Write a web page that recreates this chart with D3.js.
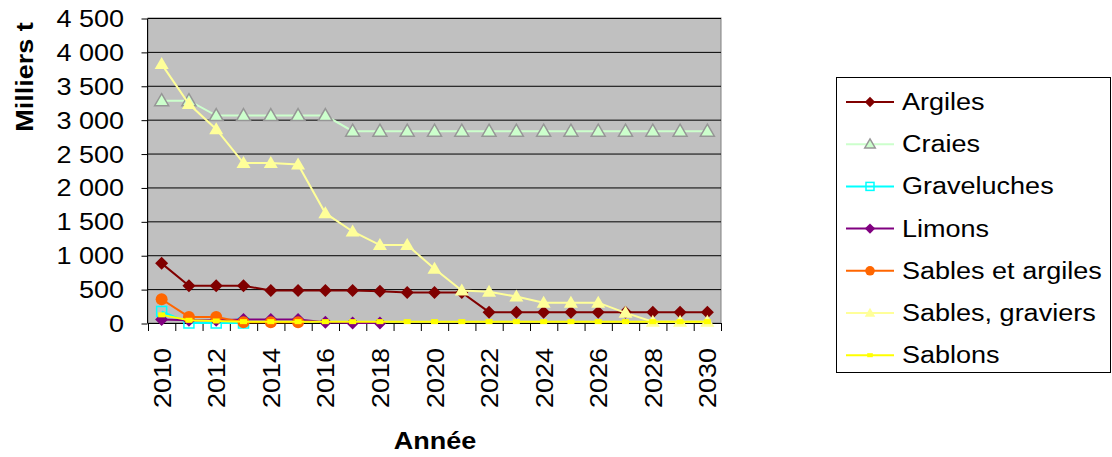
<!DOCTYPE html>
<html lang="fr">
<head>
   <meta charset="UTF-8">
   <title>Production par matériau</title>
   <style>
      body { margin: 0; background: white; }
      text { font-family: "Liberation Sans", Arial, sans-serif; }
   </style>
   <script src="https://cdn.jsdelivr.net/npm/d3@7"></script>
</head>
<body>
   <svg width="1112" height="457"></svg>
   <script>
      // data
      const years = d3.range(2010, 2031)
      const yTicks = [0, 500, 1000, 1500, 2000, 2500, 3000, 3500, 4000, 4500]

      const argiles = [880, 550, 550, 550, 480, 480, 480, 480, 470, 450, 450, 450, 160, 160, 160, 160, 160, 160, 160, 160, 160]
      const craies = [3280, 3280, 3060, 3060, 3060, 3060, 3060, 2830, 2830, 2830, 2830, 2830, 2830, 2830, 2830, 2830, 2830, 2830, 2830, 2830, 2830]
      const graveluches = [170, 0, 0, 0]
      const limons = [50, 40, 40, 50, 50, 50, 10, 0, 0]
      const sablesArgiles = [350, 90, 90, 10, 10, 10]
      const sablesGraviers = [3820, 3230, 2860, 2360, 2360, 2340, 1620, 1350, 1150, 1150, 800, 480, 460, 390, 300, 300, 300, 150, 20, 20, 20]
      const sablons = [120, 40, 30, 20, 20, 20, 20, 20, 20, 20, 20, 20, 20, 20, 20, 20, 20, 20, 20, 20, 20]

      const series = [
         { name: 'Argiles', values: argiles, line: '#800000', marker: 'diamond', fill: '#800000', stroke: 'none' },
         { name: 'Craies', values: craies, line: '#CCFFCC', marker: 'triangle', fill: '#CCFFCC', stroke: '#969696' },
         { name: 'Graveluches', values: graveluches, line: '#00FFFF', marker: 'square', fill: 'none', stroke: '#00FFFF' },
         { name: 'Limons', values: limons, line: '#800080', marker: 'diamond', fill: '#800080', stroke: 'none' },
         { name: 'Sables et argiles', values: sablesArgiles, line: '#FF6600', marker: 'circle', fill: '#FF6600', stroke: 'none' },
         { name: 'Sables, graviers', values: sablesGraviers, line: '#FFFF99', marker: 'triangle', fill: '#FFFF99', stroke: 'none' },
         { name: 'Sablons', values: sablons, line: '#FFFF00', marker: 'dash', fill: '#FFFF00', stroke: 'none' }
      ]

      const svg = d3.select('svg')
      const plot = { left: 148, right: 721, top: 18, bottom: 323 }
      const FS = 23.3      // font size
      const SX = 1.16      // glyphs in the original are a bit wider than Arial

      const x = d3.scaleBand().domain(years).range([plot.left, plot.right])
      const y = d3.scaleLinear().domain([0, 4500]).range([plot.bottom, plot.top])
      const cx = d => x(d) + x.bandwidth() / 2

      // text with stretched glyphs
      function label(g, str, tx, ty, rot, anchor, bold) {
         return g.append('text')
            .attr('transform', `translate(${tx}, ${ty})${rot ? ` rotate(${rot})` : ''} scale(${SX}, 1)`)
            .attr('text-anchor', anchor)
            .attr('font-size', FS)
            .attr('font-weight', bold ? 'bold' : null)
            .attr('fill', '#000')
            .text(str)
      }

      // plot background
      svg.append('rect')
         .attr('x', plot.left).attr('y', plot.top)
         .attr('width', plot.right - plot.left).attr('height', plot.bottom - plot.top)
         .attr('fill', '#C0C0C0')
         .attr('stroke', '#808080')

      // gridlines
      svg.append('g')
         .selectAll('line')
         .data(yTicks.slice(1))
         .enter()
         .append('line')
            .attr('x1', plot.left).attr('x2', plot.right)
            .attr('y1', d => y(d) + 0.5).attr('y2', d => y(d) + 0.5)
            .attr('stroke', '#000')

      // y axis
      const fmt = d => d3.format(',')(d).replace(',', ' ')
      const yAxis = svg.append('g')
         .attr('transform', `translate(${plot.left - 0.5}, 0.5)`)
         .call(d3.axisLeft(y).tickValues(yTicks).tickFormat('').tickSize(6))
      yAxis.selectAll('line, path').attr('stroke', '#000')
      yAxis.select('path').attr('d', `M0,${plot.top}V${plot.bottom}`)
      const yLabels = svg.append('g')
      yTicks.forEach(t => label(yLabels, fmt(t), 124, y(t) + 9, 0, 'end'))

      // x axis: ticks on band boundaries
      const xg = svg.append('g')
      xg.append('line')
         .attr('x1', plot.left).attr('x2', plot.right + 1)
         .attr('y1', plot.bottom + 0.5).attr('y2', plot.bottom + 0.5)
         .attr('stroke', '#000')
      xg.selectAll('line.tick')
         .data(years.concat([2031]))
         .enter()
         .append('line')
            .attr('class', 'tick')
            .attr('x1', d => (d === 2031 ? plot.right : x(d)) + 0.5)
            .attr('x2', d => (d === 2031 ? plot.right : x(d)) + 0.5)
            .attr('y1', plot.bottom).attr('y2', plot.bottom + 8)
            .attr('stroke', '#000')
      years.filter(d => d % 2 === 0)
         .forEach(d => label(xg, d, cx(d) + 9, plot.bottom + 25, -90, 'end'))

      // axis titles
      label(svg, 'Milliers t', 33, 77, -90, 'middle', true)
      label(svg, 'Année', 435, 449, 0, 'middle', true)

      // markers
      function drawMarker(g, s, px, py, scale) {
         const k = scale || 1
         if (s.marker === 'diamond') {
            g.append('path')
               .attr('d', `M${px},${py - 6.5 * k}L${px + 6.5 * k},${py}L${px},${py + 6.5 * k}L${px - 6.5 * k},${py}Z`)
               .attr('fill', s.fill)
         } else if (s.marker === 'triangle') {
            g.append('path')
               .attr('d', `M${px},${py - 7 * k}L${px + 7 * k},${py + 5 * k}L${px - 7 * k},${py + 5 * k}Z`)
               .attr('fill', s.fill)
               .attr('stroke', s.stroke)
               .attr('stroke-width', 1.5)
         } else if (s.marker === 'square') {
            g.append('rect')
               .attr('x', px - 5 * k).attr('y', py - 5 * k)
               .attr('width', 10 * k).attr('height', 10 * k)
               .attr('fill', 'none')
               .attr('stroke', s.stroke)
               .attr('stroke-width', 1.5)
         } else if (s.marker === 'circle') {
            g.append('circle')
               .attr('cx', px).attr('cy', py).attr('r', 6 * k)
               .attr('fill', s.fill)
         } else if (s.marker === 'dash') {
            g.append('rect')
               .attr('x', px - 3.5 * k).attr('y', py - 2.5 * k)
               .attr('width', 7 * k).attr('height', 5 * k)
               .attr('fill', s.fill)
         }
      }

      const line = d3.line()
         .x((d, i) => cx(years[i]))
         .y(d => y(d))

      series.forEach(s => {
         const g = svg.append('g')
         g.append('path')
            .attr('d', line(s.values))
            .attr('fill', 'none')
            .attr('stroke', s.line)
            .attr('stroke-width', 2)
         s.values.forEach((v, i) => drawMarker(g, s, cx(years[i]), y(v)))
      })

      // legend
      const legend = svg.append('g')
      legend.append('rect')
         .attr('x', 836.5).attr('y', 77.5)
         .attr('width', 274).attr('height', 295)
         .attr('fill', 'white')
         .attr('stroke', '#000')
      series.forEach((s, i) => {
         const ly = 102 + i * 42.2
         legend.append('line')
            .attr('x1', 846).attr('x2', 894)
            .attr('y1', ly).attr('y2', ly)
            .attr('stroke', s.line)
            .attr('stroke-width', 2)
         drawMarker(legend, s, 870, ly, s.marker === 'triangle' ? 0.75 : 0.8)
         label(legend, s.name, 902, ly + 8, 0, 'start')
      })
   </script>
</body>
</html>
